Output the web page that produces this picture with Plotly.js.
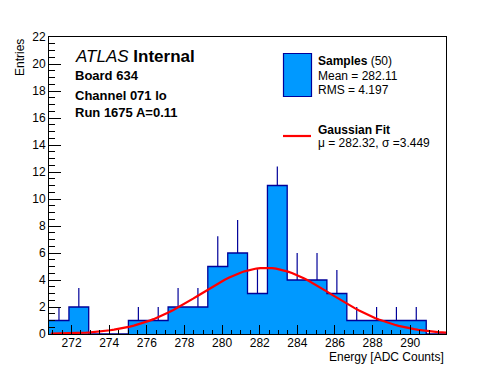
<!DOCTYPE html>
<html>
<head>
<meta charset="utf-8">
<script src="https://cdn.plot.ly/plotly-3.0.1.min.js"></script>
<style>html,body{margin:0;padding:0;background:#fff;}#chart{width:496px;height:372px;}</style>
</head>
<body>
<div id="chart"></div>
<script>
// ---- data ----
const binEdges = [270.80, 271.86, 272.91, 273.97, 275.02, 276.08, 277.13, 278.19, 279.24, 280.30,
                  281.35, 282.41, 283.46, 284.52, 285.57, 286.63, 287.68, 288.74, 289.79, 290.85, 291.90];
const binCounts = [1, 2, 0, 0, 1, 1, 2, 2, 5, 6, 3, 11, 4, 4, 3, 1, 1, 1, 1, 0];
const binErrors = [0.95, 1.4, 0, 0, 1, 1, 1.4, 1.4, 2.25, 2.45, 1.8, 1.4, 2, 2, 1.75, 1, 1, 1, 1, 0];
const fitMu = 282.32;
const fitSigma = 3.449;
const fitAmplitude = 4.9;
const fitRange = [270.9, 291.9];
const xTickVals = [272, 274, 276, 278, 280, 282, 284, 286, 288, 290];
const yTickVals = [0, 2, 4, 6, 8, 10, 12, 14, 16, 18, 20, 22];
const infoLines = ["Board 634", "Channel 071 lo", "Run 1675 A=0.11"];
const legendSamples = ["<b>Samples</b> (50)", "Mean = 282.11", "RMS = 4.197"];
const legendFit = ["<b>Gaussian Fit</b>", "\u03bc = 282.32, \u03c3 =3.449"];

// ---- derived ----
const centers = binCounts.map((_, i) => (binEdges[i] + binEdges[i + 1]) / 2);
const stepY = binCounts.concat([binCounts[binCounts.length - 1]]);
const fitX = [], fitY = [];
for (let i = 0; i <= 100; i++) {
  const x = fitRange[0] + (fitRange[1] - fitRange[0]) * i / 100;
  fitX.push(x);
  fitY.push(fitAmplitude * Math.exp(-0.5 * Math.pow((x - fitMu) / fitSigma, 2)));
}

const FILL = '#0099ff';
const EDGE = '#000099';
const FONT = 'Liberation Sans, Arial, Helvetica, sans-serif';

// plot area in pixels
const L = 49, R = 446, T = 37, B = 334;
const px = x => (x - L) / (R - L);
const py = y => (B - y) / (B - T);

const traces = [
  {
    x: binEdges, y: stepY, type: 'scatter', mode: 'lines',
    line: {shape: 'hv', color: EDGE, width: 1.3},
    fill: 'tozeroy', fillcolor: FILL, hoverinfo: 'skip', showlegend: false
  },
  {
    x: centers, y: binCounts, type: 'scatter', mode: 'markers',
    marker: {size: 1, color: 'rgba(0,0,0,0)'},
    error_y: {type: 'data', symmetric: false, array: binErrors,
              arrayminus: binCounts.map(() => 0), width: 0, thickness: 1.2, color: EDGE},
    showlegend: false, hoverinfo: 'skip'
  },
  {
    x: fitX, y: fitY, type: 'scatter', mode: 'lines',
    line: {color: '#ff0000', width: 2.2}, showlegend: false, hoverinfo: 'skip'
  }
];

const annotations = [];
annotations.push({xref: 'paper', yref: 'paper', x: px(73), y: py(56.5), xanchor: 'left', yanchor: 'middle',
  text: '<i>ATLAS</i> <b>Internal</b>', showarrow: false, font: {family: FONT, size: 17, color: '#000'}});
const infoY = [75.5, 95, 113];
infoLines.forEach((t, i) => annotations.push({xref: 'paper', yref: 'paper', x: px(73), y: py(infoY[i]),
  xanchor: 'left', yanchor: 'middle', text: '<b>' + t + '</b>', showarrow: false,
  font: {family: FONT, size: 13, color: '#000'}}));
const sampY = [61, 76, 90];
legendSamples.forEach((t, i) => annotations.push({xref: 'paper', yref: 'paper', x: px(316), y: py(sampY[i]),
  xanchor: 'left', yanchor: 'middle', text: t, showarrow: false, font: {family: FONT, size: 12, color: '#000'}}));
const fitYpos = [129.5, 143];
legendFit.forEach((t, i) => annotations.push({xref: 'paper', yref: 'paper', x: px(316), y: py(fitYpos[i]),
  xanchor: 'left', yanchor: 'middle', text: t, showarrow: false, font: {family: FONT, size: 12, color: '#000'}}));
annotations.push({xref: 'paper', yref: 'paper', x: px(446), y: py(357), xanchor: 'right', yanchor: 'middle',
  text: 'Energy [ADC Counts]', showarrow: false, font: {family: FONT, size: 12, color: '#000'}});
annotations.push({xref: 'paper', yref: 'paper', x: px(19.5), y: py(37), xanchor: 'center', yanchor: 'top',
  text: 'Entries', textangle: -90, showarrow: false, font: {family: FONT, size: 12, color: '#000'}});

const shapes = [
  {type: 'rect', xref: 'paper', yref: 'paper', x0: px(283.5), x1: px(311.5), y0: py(53.5), y1: py(96.5),
   fillcolor: FILL, line: {color: EDGE, width: 1.2}},
  {type: 'line', xref: 'paper', yref: 'paper', x0: px(283), x1: px(311), y0: py(136), y1: py(136),
   line: {color: '#ff0000', width: 2.2}}
];

const layout = {
  width: 496, height: 372,
  margin: {l: L, r: 496 - R, t: T, b: 372 - B, pad: 0},
  paper_bgcolor: '#fff', plot_bgcolor: '#fff',
  showlegend: false,
  font: {family: FONT, size: 12, color: '#000'},
  xaxis: {
    range: [binEdges[0], binEdges[binEdges.length - 1]],
    tickvals: xTickVals, ticktext: xTickVals.map(String),
    ticks: 'inside', ticklen: 9, tickwidth: 1, tickcolor: '#000',
    ticklabelstandoff: -2,
    minor: {dtick: 0.5, tick0: 272, ticks: 'inside', ticklen: 4.5, tickcolor: '#000', showgrid: false},
    showline: true, linecolor: '#000', linewidth: 1, mirror: true,
    showgrid: false, zeroline: false,
    tickfont: {family: FONT, size: 12, color: '#000'}
  },
  yaxis: {
    range: [0, 22],
    tickvals: yTickVals, ticktext: yTickVals.map(String),
    ticks: 'inside', ticklen: 12, tickwidth: 1, tickcolor: '#000',
    minor: {dtick: 0.5, tick0: 0, ticks: 'inside', ticklen: 6, tickcolor: '#000', showgrid: false},
    showline: true, linecolor: '#000', linewidth: 1, mirror: true,
    showgrid: false, zeroline: false,
    tickfont: {family: FONT, size: 12, color: '#000'}
  },
  annotations: annotations,
  shapes: shapes
};

Plotly.newPlot('chart', traces, layout, {displayModeBar: false, staticPlot: true});
</script>
</body>
</html>
